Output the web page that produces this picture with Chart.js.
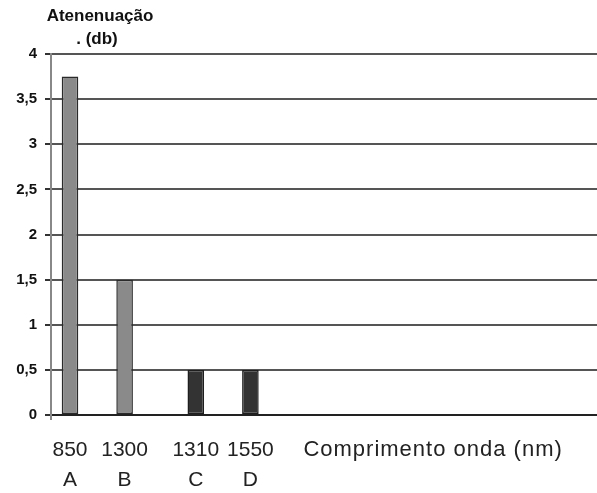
<!DOCTYPE html>
<html>
<head>
<meta charset="utf-8">
<script src="https://cdn.jsdelivr.net/npm/chart.js@4"></script>
<style>
  html, body { margin: 0; padding: 0; background: #fff; }
  #wrap { width: 597px; height: 493px; position: relative; }
</style>
</head>
<body>
<div id="wrap"><canvas id="attChart"></canvas></div>
<script>
// Chart data
const wavelengths = ['850', '1300', '1310', '1550'];
const windowLetters = ['A', 'B', 'C', 'D'];
const attenuation = [3.75, 1.5, 0.5, 0.5];
const isNewGen = [false, false, true, true];   // dark bars = C and D
const yTicks = [0, 0.5, 1, 1.5, 2, 2.5, 3, 3.5, 4];
const yTitle = ['Atenenuação', '. (db)'];
const xTitle = 'Comprimento onda (nm)';

const slotCount = 10; // empty slots to the right of the four bars
const labels = wavelengths.concat(Array(slotCount - wavelengths.length).fill(''));
const pad = arr => arr.concat(Array(slotCount - arr.length).fill(null));
const oldData = pad(attenuation.map((v, i) => isNewGen[i] ? null : v));
const newData = pad(attenuation.map((v, i) => isNewGen[i] ? v : null));

const FONT = 'Arial, "Liberation Sans", sans-serif';

// draws axis titles and two-line category labels under the bars
const labelPlugin = {
    id: 'labelPlugin',
    afterDraw(chart) {
        const ctx = chart.ctx;
        const area = chart.chartArea;
        ctx.save();
        ctx.fillStyle = '#111';
        ctx.textAlign = 'center';
        ctx.textBaseline = 'middle';
        ctx.font = 'bold 17px ' + FONT;
        ctx.fillText(yTitle[0], 100, 16);
        ctx.fillText(yTitle[1], 97, 39);

        ctx.font = '21px ' + FONT;
        ctx.fillStyle = '#222';
        let lastX = 0;
        wavelengths.forEach((w, i) => {
            const meta = chart.getDatasetMeta(isNewGen[i] ? 1 : 0);
            const x = meta.data[i].x;
            ctx.fillText(w, x, area.bottom + 35);
            ctx.fillText(windowLetters[i], x, area.bottom + 65);
            lastX = x;
        });
        ctx.textAlign = 'left';
        ctx.font = '22px ' + FONT;
        ctx.letterSpacing = '1px';
        ctx.fillText(xTitle, lastX + 53, area.bottom + 35);
        ctx.restore();

        // small downward stub of the value axis below zero
        ctx.save();
        ctx.strokeStyle = '#888';
        ctx.lineWidth = 2;
        ctx.beginPath();
        ctx.moveTo(area.left, area.bottom);
        ctx.lineTo(area.left, area.bottom + 5);
        ctx.stroke();
        ctx.restore();
    }
};

new Chart(document.getElementById('attChart'), {
    type: 'bar',
    data: {
        labels: labels,
        datasets: [{
            data: oldData,
            backgroundColor: '#8a8a8a',
            borderColor: '#2a2a2a',
            borderWidth: 1.5,
            borderSkipped: false,
            barPercentage: 1,
            categoryPercentage: 0.608
        }, {
            data: newData,
            backgroundColor: '#333',
            borderColor: '#1e1e1e',
            borderWidth: 1.5,
            borderSkipped: false,
            barPercentage: 1,
            categoryPercentage: 0.608
        }]
    },
    options: {
        responsive: true,
        maintainAspectRatio: false,
        animation: false,
        layout: { padding: { top: 54, bottom: 78, left: 0, right: 0 } },
        plugins: {
            legend: { display: false },
            tooltip: { enabled: false }
        },
        scales: {
            x: {
                display: false,
                grid: { display: false }
            },
            y: {
                min: 0,
                max: 4,
                afterBuildTicks: function(scale) {
                    scale.ticks = yTicks.map(v => ({ value: v }));
                },
                afterFit: function(scale) {
                    scale.width = 51;
                },
                ticks: {
                    padding: 8,
                    color: '#111',
                    font: { family: FONT, size: 15, weight: 'bold' },
                    callback: v => String(v).replace('.', ',')
                },
                grid: {
                    color: ctx => ctx.tick && ctx.tick.value === 0 ? '#222' : '#555',
                    lineWidth: 2,
                    tickLength: 6,
                    tickColor: '#333'
                },
                border: { display: true, color: '#888', width: 2 }
            }
        }
    },
    plugins: [labelPlugin]
});
</script>
</body>
</html>
